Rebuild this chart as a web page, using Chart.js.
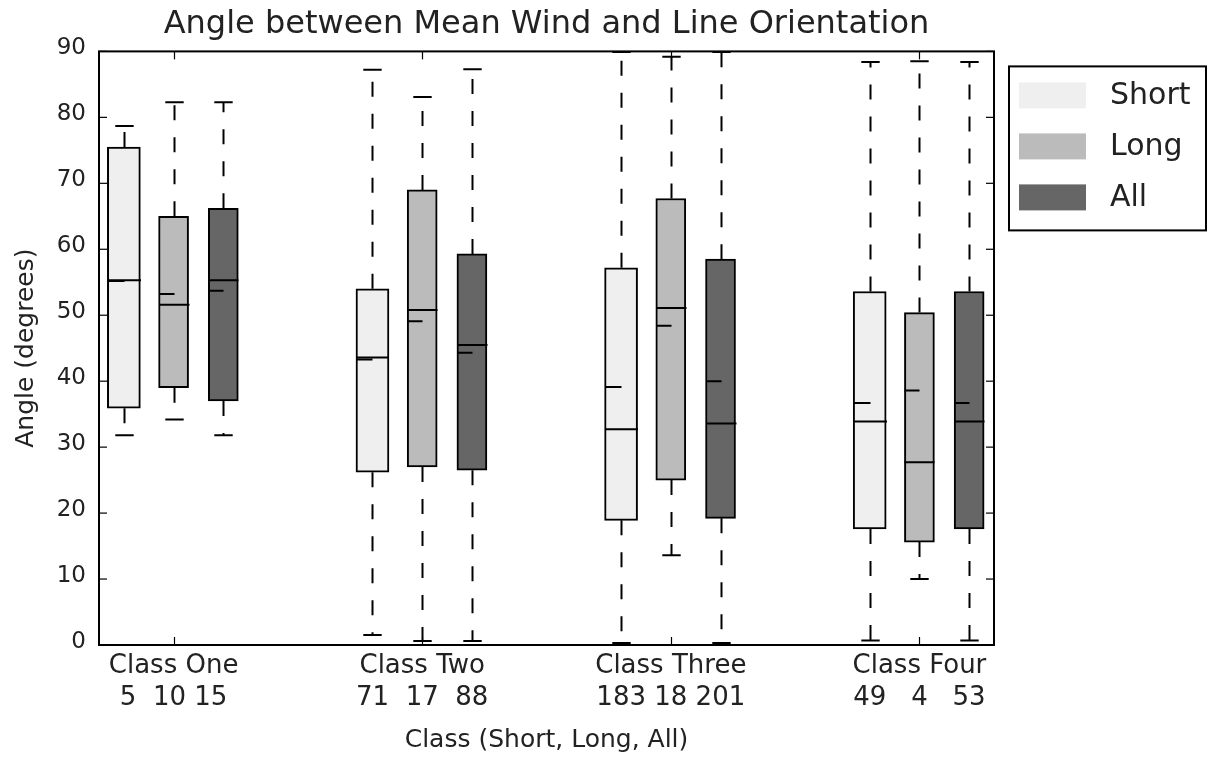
<!DOCTYPE html>
<html>
<head>
<meta charset="utf-8">
<title>Angle between Mean Wind and Line Orientation</title>
<script src="https://cdn.jsdelivr.net/npm/chart.js@4.4.0/dist/chart.umd.min.js"></script>
<style>
  html, body { margin: 0; padding: 0; background: #fff; }
</style>
</head>
<body>
<canvas id="chart" width="1207" height="758"></canvas>
<script>
// ---- data ----
const CATEGORIES = ['Class One', 'Class Two', 'Class Three', 'Class Four'];
const COUNT_LABELS = ['5  10 15', '71  17  88', '183 18 201', '49   4   53'];

// Short
const SHORT_LOW    = [31.8,  1.5,  0.3,  0.7];
const SHORT_Q1     = [35.9, 26.2, 18.9, 17.6];
const SHORT_MEDIAN = [55.3, 43.6, 32.7, 33.9];
const SHORT_MEAN   = [55.2, 43.3, 39.1, 36.7];
const SHORT_Q3     = [75.5, 54.0, 57.2, 53.6];
const SHORT_HIGH   = [78.7, 87.2, 89.9, 88.4];

// Long
const LONG_LOW     = [34.2,  0.6, 13.6, 10.0];
const LONG_Q1      = [39.0, 27.0, 25.0, 15.6];
const LONG_MEDIAN  = [51.6, 50.8, 51.1, 27.7];
const LONG_MEAN    = [53.2, 49.1, 48.4, 38.6];
const LONG_Q3      = [65.0, 69.0, 67.7, 50.4];
const LONG_HIGH    = [82.3, 83.1, 89.2, 88.5];

// All
const ALL_LOW      = [31.8,  0.6,  0.3,  0.7];
const ALL_Q1       = [37.0, 26.5, 19.2, 17.6];
const ALL_MEDIAN   = [55.3, 45.5, 33.6, 33.9];
const ALL_MEAN     = [53.7, 44.3, 40.0, 36.7];
const ALL_Q3       = [66.2, 59.3, 58.5, 53.6];
const ALL_HIGH     = [82.3, 87.3, 89.9, 88.4];

const Y_TICKS = [0, 10, 20, 30, 40, 50, 60, 70, 80, 90];

// ---- layout / style ----
const FONT = '"DejaVu Sans", sans-serif';
const TEXT = '#222';
const GROUP_SPACING = 5;     // boxes sit at 1,2,3  6,7,8 ...
const CAP_WIDTH = 0.37;      // in x units
const LINE_W = 2;

Chart.defaults.font.family = FONT;
Chart.defaults.color = TEXT;

const groupCenter = g => 2 + g * GROUP_SPACING;

function makeDataset(label, color, thickness, offset, lo, q1, med, mean, q3, hi) {
    return {
        label: label,
        backgroundColor: color,
        borderColor: '#000',
        borderWidth: LINE_W,
        borderSkipped: false,
        barThickness: thickness,
        grouped: false,
        data: q1.map((v, g) => ({ x: groupCenter(g) + offset, y: [v, q3[g]] })),
        stats: q1.map((v, g) => ({
            pos: groupCenter(g) + offset,
            lo: lo[g], q1: v, med: med[g], mean: mean[g], q3: q3[g], hi: hi[g],
        })),
    };
}

const datasets = [
    makeDataset('Short', '#efefef', 33, -1, SHORT_LOW, SHORT_Q1, SHORT_MEDIAN, SHORT_MEAN, SHORT_Q3, SHORT_HIGH),
    makeDataset('Long',  '#bbbbbb', 30,  0, LONG_LOW,  LONG_Q1,  LONG_MEDIAN,  LONG_MEAN,  LONG_Q3,  LONG_HIGH),
    makeDataset('All',   '#666666', 30,  1, ALL_LOW,   ALL_Q1,   ALL_MEDIAN,   ALL_MEAN,   ALL_Q3,   ALL_HIGH),
];

function seg(ctx, x1, y1, x2, y2) {
    ctx.beginPath();
    ctx.moveTo(x1, y1);
    ctx.lineTo(x2, y2);
    ctx.stroke();
}

/* whiskers, caps, medians and means on top of the bars */
const boxExtras = {
    id: 'boxExtras',
    afterDatasetsDraw(chart) {
        const { ctx, chartArea: a, scales: { x, y } } = chart;
        ctx.save();
        ctx.beginPath();
        ctx.rect(a.left, a.top, a.right - a.left, a.bottom - a.top);
        ctx.clip();
        ctx.strokeStyle = '#000';
        ctx.lineWidth = LINE_W;
        const capHalf = (x.getPixelForValue(CAP_WIDTH) - x.getPixelForValue(0)) / 2;

        chart.data.datasets.forEach(ds => {
            const half = ds.barThickness / 2;
            ds.stats.forEach(s => {
                const cx = Math.round(x.getPixelForValue(s.pos)) + 0.5;
                const yLo = y.getPixelForValue(s.lo);
                const yHi = y.getPixelForValue(s.hi);
                const yQ1 = y.getPixelForValue(s.q1);
                const yQ3 = y.getPixelForValue(s.q3);

                ctx.setLineDash([15, 17]);
                seg(ctx, cx, yQ3, cx, yHi);
                seg(ctx, cx, yQ1, cx, yLo);
                ctx.setLineDash([]);

                seg(ctx, cx - capHalf, yHi, cx + capHalf, yHi);
                seg(ctx, cx - capHalf, yLo, cx + capHalf, yLo);

                const yMed = y.getPixelForValue(s.med);
                seg(ctx, cx - half, yMed, cx + half, yMed);

                const yMean = y.getPixelForValue(s.mean);
                seg(ctx, cx - half, yMean, cx, yMean);
            });
        });
        ctx.restore();
    },
    afterDraw(chart) {
        const { ctx, chartArea: a, scales: { x, y } } = chart;
        ctx.save();
        ctx.strokeStyle = '#000';

        // inward tick marks on all four sides
        ctx.lineWidth = 1.2;
        y.ticks.forEach(t => {
            const py = y.getPixelForValue(t.value);
            seg(ctx, a.left, py, a.left + 8, py);
            seg(ctx, a.right, py, a.right - 8, py);
        });
        x.ticks.forEach(t => {
            const px = Math.round(x.getPixelForValue(t.value)) + 0.5;
            seg(ctx, px, a.bottom, px, a.bottom - 8);
            seg(ctx, px, a.top, px, a.top + 8);
        });

        // axes frame
        ctx.lineWidth = LINE_W;
        ctx.strokeRect(a.left, a.top, a.right - a.left, a.bottom - a.top);

        // legend box to the right of the axes
        const lx = a.right + 15, ly = a.top + 15, lw = 197, lh = 164;
        ctx.fillStyle = '#fff';
        ctx.fillRect(lx, ly, lw, lh);
        ctx.strokeRect(lx, ly, lw, lh);
        ctx.font = '30px ' + FONT;
        ctx.textBaseline = 'middle';
        ctx.textAlign = 'left';
        chart.data.datasets.forEach((ds, i) => {
            const cy = ly + 29 + i * 51;
            ctx.fillStyle = ds.backgroundColor;
            ctx.fillRect(lx + 10, cy - 13, 67, 26);
            ctx.fillStyle = TEXT;
            ctx.fillText(ds.label, lx + 101, cy + 1);
        });
        ctx.restore();
    },
};

const chart = new Chart(document.getElementById('chart').getContext('2d'), {
    type: 'bar',
    data: { datasets: datasets },
    plugins: [boxExtras],
    options: {
        responsive: false,
        animation: false,
        layout: { padding: { left: 0, right: 213, top: 0, bottom: 0 } },
        plugins: {
            legend: { display: false },
            tooltip: { enabled: false },
            title: {
                display: true,
                text: 'Angle between Mean Wind and Line Orientation',
                fullSize: false,
                color: TEXT,
                font: { size: 32, weight: 'normal' },
                padding: { top: 5, bottom: 8 },
            },
        },
        scales: {
            x: {
                type: 'linear',
                min: 0.5,
                max: 18.5,
                offset: false,
                grid: { display: false, drawTicks: false, offset: false },
                border: { display: false },
                afterBuildTicks: s => { s.ticks = CATEGORIES.map((c, g) => ({ value: groupCenter(g) })); },
                afterFit: s => { s.height = 113; },
                ticks: {
                    autoSkip: false,
                    maxRotation: 0,
                    padding: 6,
                    font: { size: 26, lineHeight: 1.2 },
                    callback: (v, i) => [CATEGORIES[i], COUNT_LABELS[i]],
                },
                title: {
                    display: true,
                    text: 'Class (Short, Long, All)',
                    font: { size: 25, lineHeight: 1.2 },
                    padding: { top: 4, bottom: 3 },
                },
            },
            y: {
                min: 0,
                max: 90,
                grid: { display: false, drawTicks: false },
                border: { display: false },
                afterBuildTicks: s => { s.ticks = Y_TICKS.map(v => ({ value: v })); },
                afterFit: s => { s.width = 99; },
                ticks: {
                    padding: 13,
                    labelOffset: -3,
                    font: { size: 23 },
                },
                title: {
                    display: true,
                    text: 'Angle (degrees)',
                    font: { size: 25, lineHeight: 1.2 },
                    padding: { top: 11, bottom: 0 },
                },
            },
        },
    },
});
</script>
</body>
</html>
